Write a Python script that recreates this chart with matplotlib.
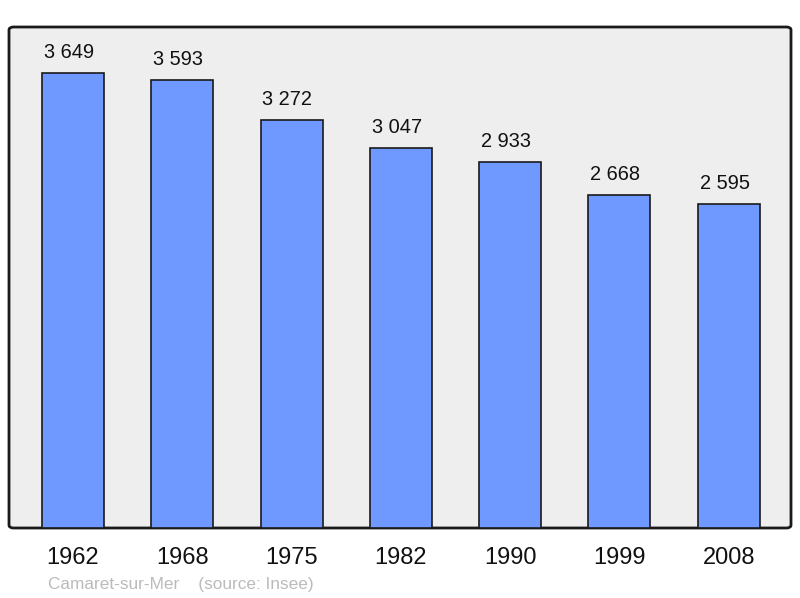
import matplotlib.pyplot as plt
from matplotlib.patches import FancyBboxPatch

plt.rcParams["font.family"] = ["Liberation Sans", "DejaVu Sans"]

years = ["1962", "1968", "1975", "1982", "1990", "1999", "2008"]
population = [3649, 3593, 3272, 3047, 2933, 2668, 2595]
labels = ["3 649", "3 593", "3 272", "3 047", "2 933", "2 668", "2 595"]

W, H = 800, 598
fig = plt.figure(figsize=(W / 100, H / 100), dpi=100)
fig.patch.set_facecolor("white")
ax = fig.add_axes([9 / W, (H - 528) / H, 782 / W, 501 / H])
ax.set_facecolor("none")

# background frame with slight rounding
frame = FancyBboxPatch((0, 0), 1, 1, boxstyle="round,pad=0,rounding_size=0.006",
                       transform=ax.transAxes, facecolor="#EEEEEE",
                       edgecolor="#1a1a1a", linewidth=2, zorder=0, clip_on=False)
ax.add_patch(frame)

x = list(range(len(years)))
ax.bar(x, population, width=0.567, color="#7099FF", edgecolor="#1a1a1a",
       linewidth=1.2, zorder=2)
for xi, v, lab in zip(x, population, labels):
    ax.annotate(lab, (xi, v), xytext=(-3, 8), textcoords="offset points",
                ha="center", va="bottom", fontsize=14.4, color="#111111")

ax.set_xlim(-0.585, 6.57)
ax.set_ylim(0, 3649 * 501 / 455)
ax.set_xticks(x)
ax.set_xticklabels(years, fontsize=17, color="#111111")
ax.tick_params(axis="x", length=0, pad=14)
ax.set_yticks([])
for s in ax.spines.values():
    s.set_visible(False)

fig.text(48 / W, 1 - 584 / H, "Camaret-sur-Mer    (source: Insee)",
         fontsize=12.4, color="#BBBBBB", ha="left", va="center")

fig.savefig("out.png", dpi=100)
